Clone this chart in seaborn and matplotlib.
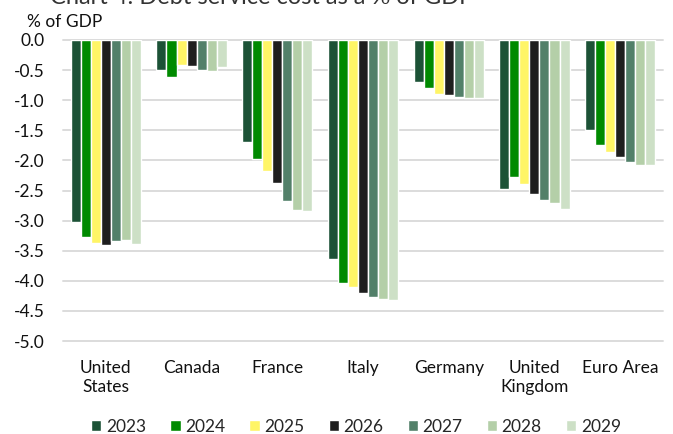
import matplotlib
matplotlib.use("Agg")
import matplotlib.pyplot as plt
import seaborn as sns
import pandas as pd

countries = ["United\nStates", "Canada", "France", "Italy", "Germany", "United\nKingdom", "Euro Area"]
years = ["2023", "2024", "2025", "2026", "2027", "2028", "2029"]

# Debt service cost, % of GDP, one list per year
y2023 = [-3.03, -0.50, -1.69, -3.63, -0.70, -2.47, -1.50]
y2024 = [-3.27, -0.62, -1.98, -4.03, -0.80, -2.28, -1.74]
y2025 = [-3.38, -0.41, -2.17, -4.11, -0.89, -2.40, -1.86]
y2026 = [-3.40, -0.44, -2.38, -4.21, -0.92, -2.56, -1.94]
y2027 = [-3.34, -0.50, -2.67, -4.27, -0.95, -2.65, -2.03]
y2028 = [-3.32, -0.51, -2.82, -4.31, -0.97, -2.71, -2.08]
y2029 = [-3.39, -0.45, -2.84, -4.32, -0.96, -2.81, -2.08]

series = [y2023, y2024, y2025, y2026, y2027, y2028, y2029]
colors = ["#1c5236", "#008a00", "#fff566", "#1e1e1e", "#528069", "#b4cfa8", "#cde0c6"]

rows = []
for yr, vals in zip(years, series):
    for c, v in zip(countries, vals):
        rows.append({"country": c, "year": yr, "value": v})
df = pd.DataFrame(rows)

sns.set_theme(style="white")
plt.rcParams["font.family"] = ["Lato", "DejaVu Sans"]

fig = plt.figure(figsize=(6.73, 4.34), dpi=100)
ax = fig.add_axes([63 / 673, 1 - 341 / 434, (663 - 63) / 673, (341 - 40) / 434])

sns.barplot(data=df, x="country", y="value", hue="year", order=countries,
            hue_order=years, palette=colors, width=0.82, gap=0,
            saturation=1, ax=ax, zorder=3)

ax.set_ylim(-5.0, 0.0)
ax.set_xlim(-0.5, 6.5)
ax.set_yticks([0, -0.5, -1, -1.5, -2, -2.5, -3, -3.5, -4, -4.5, -5])
ax.set_yticklabels([f"{t:.1f}" for t in ax.get_yticks()])
ax.yaxis.grid(True, color="#dcdcdc", linewidth=1.4)
for gl in ax.get_ygridlines():
    gl.set_clip_on(False)
ax.set_axisbelow(True)
for s in ax.spines.values():
    s.set_visible(False)
ax.tick_params(axis="y", length=0, pad=13, labelsize=12.5, labelcolor="#111111")
ax.tick_params(axis="x", length=0, pad=14, labelsize=12.5, labelcolor="#111111")
ax.set_xlabel("")
ax.set_ylabel("")

handles, labels = ax.get_legend_handles_labels()
ax.get_legend().remove()
fig.legend(handles, labels, loc="center", bbox_to_anchor=(356 / 673, 1 - 427 / 434),
           ncol=7, frameon=False, fontsize=12.5, handlelength=0.6, handleheight=0.6,
           handletextpad=0.25, columnspacing=1.4)

fig.text(27 / 673, 1 - 22 / 434, "% of GDP", fontsize=12.5, va="center", ha="left", color="#111111")
fig.text(50 / 673, 1 - 4 / 434, "Chart 4: Debt service cost as a % of GDP", fontsize=17,
         va="baseline", ha="left", color="#333333")

fig.savefig("out.png", dpi=100)
